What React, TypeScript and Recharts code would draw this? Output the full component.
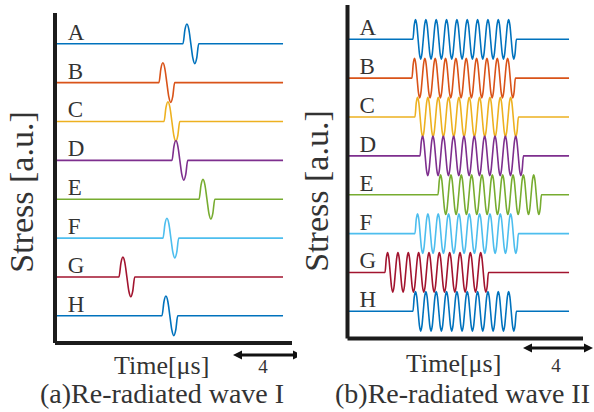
import React from 'react';
import { LineChart, Line, XAxis, YAxis, ReferenceDot } from 'recharts';

// ---- data ----
const TRACE_NAMES = ['A', 'B', 'C', 'D', 'E', 'F', 'G', 'H'];
const TRACE_COLORS = ['#0072BD', '#D95319', '#EDB120', '#7E2F8E', '#77AC30', '#4DBEEE', '#A2142F', '#0072BD'];
const TRACE_BASELINES = [7.7, 6.7, 5.7, 4.7, 3.7, 2.7, 1.7, 0.7];
const AMPLITUDE = 0.51;
// one cycle of the tone burst, sampled every 1/8 period
const BURST_SHAPE = [0, 0.71, 1, 0.71, 0, -0.71, -1, -0.71];

// (a) re-radiated wave I : onset time [us] per trace
const WAVE_I_ONSETS = [7.56, 6.14, 6.44, 6.91, 8.51, 6.38, 3.78, 6.32];
const WAVE_I_PERIOD = 0.93;
const WAVE_I_CYCLES = 1;
const WAVE_I_SPAN = [0.05, 13.47];

// (b) re-radiated wave II
const WAVE_II_ONSETS = [3.89, 3.83, 4.01, 4.31, 5.38, 4.01, 2.23, 3.89];
const WAVE_II_PERIOD = 0.615;
const WAVE_II_CYCLES = 10;
const WAVE_II_SPAN = [0, 13.17];

const TIME_DOMAIN = [0, 14];
const SCALE_BAR_LABEL = '4';
const X_TITLE = 'Time[μs]';
const Y_TITLE = 'Stress [a.u.]';

const FONT = '"Liberation Serif", "Times New Roman", Times, serif';
const TEXT_COLOR = '#333';

function buildTrace(onset: number, period: number, cycles: number, base: number, span: number[]) {
  const pts: { t: number; v: number }[] = [{ t: span[0], v: base }];
  const m = BURST_SHAPE.length;
  const n = cycles * m;
  for (let k = 0; k <= n; k++) {
    pts.push({ t: onset + (k * period) / m, v: base + AMPLITUDE * BURST_SHAPE[k % m] });
  }
  pts.push({ t: span[1], v: base });
  return pts;
}

type Cfg = {
  onsets: number[];
  period: number;
  cycles: number;
  span: number[];
  plotLeft: number;
  plotRight: number;
  plotTop: number;
  plotBottom: number;
  yMax: number;
  yLabelX: number;
  yLabelY: number;
  timeX: number;
  timeY: number;
  fourX: number;
  fourY: number;
  arrowX1: number;
  arrowX2: number;
  arrowY: number;
  captionX: number;
  captionY: number;
  caption: string;
};

const W = 297;
const H = 412;

function BottomTexts({ cfg }: { cfg: Cfg }) {
  const a = cfg.arrowY;
  return (
    <g>
      <line x1={cfg.arrowX1 + 6} y1={a} x2={cfg.arrowX2 - 6} y2={a} stroke="#111" strokeWidth={3} />
      <polygon points={`${cfg.arrowX1},${a} ${cfg.arrowX1 + 9},${a - 4.5} ${cfg.arrowX1 + 9},${a + 4.5}`} fill="#111" />
      <polygon points={`${cfg.arrowX2},${a} ${cfg.arrowX2 - 9},${a - 4.5} ${cfg.arrowX2 - 9},${a + 4.5}`} fill="#111" />
      <text x={cfg.timeX} y={cfg.timeY} fontFamily={FONT} fontSize={26} fill={TEXT_COLOR}>{X_TITLE}</text>
      <text x={cfg.fourX} y={cfg.fourY} fontFamily={FONT} fontSize={19} fill={TEXT_COLOR} textAnchor="middle">{SCALE_BAR_LABEL}</text>
      <text x={cfg.captionX} y={cfg.captionY} fontFamily={FONT} fontSize={28} fill={TEXT_COLOR}>{cfg.caption}</text>
    </g>
  );
}

function Panel({ cfg }: { cfg: Cfg }) {
  const axisStyle = { stroke: '#1c1c1c', strokeWidth: 4 };
  return (
    <LineChart
      width={W}
      height={H}
      margin={{ top: cfg.plotTop, right: W - cfg.plotRight, bottom: 0, left: cfg.plotLeft - 1 }}
    >
      <XAxis
        type="number"
        dataKey="t"
        domain={TIME_DOMAIN}
        allowDataOverflow
        tick={false}
        tickLine={false}
        axisLine={axisStyle}
        height={H - cfg.plotBottom}
        label={() => <BottomTexts cfg={cfg} />}
      />
      <YAxis
        type="number"
        domain={[0, cfg.yMax]}
        allowDataOverflow
        width={1}
        tick={false}
        tickLine={false}
        axisLine={axisStyle}
        label={() => (
          <text
            x={cfg.yLabelX}
            y={cfg.yLabelY}
            transform={`rotate(-90, ${cfg.yLabelX}, ${cfg.yLabelY})`}
            textAnchor="middle"
            fontFamily={FONT}
            fontSize={34}
            fill={TEXT_COLOR}
          >
            {Y_TITLE}
          </text>
        )}
      />
      {TRACE_NAMES.map((name, i) => (
        <Line
          key={name}
          data={buildTrace(cfg.onsets[i], cfg.period, cfg.cycles, TRACE_BASELINES[i], cfg.span)}
          dataKey="v"
          type="monotone"
          stroke={TRACE_COLORS[i]}
          strokeWidth={1.6}
          dot={false}
          activeDot={false}
          isAnimationActive={false}
        />
      ))}
      {TRACE_NAMES.map((name, i) => (
        <ReferenceDot
          key={'lbl' + name}
          x={cfg.span[0]}
          y={TRACE_BASELINES[i]}
          r={0}
          fill="none"
          stroke="none"
          label={(p: any) => {
            const vb = p.viewBox || {};
            return (
              <text x={(vb.x ?? 0) + 12} y={(vb.y ?? 0) - 4} fontFamily={FONT} fontSize={23} fill={TEXT_COLOR}>
                {name}
              </text>
            );
          }}
        />
      ))}
    </LineChart>
  );
}

const LEFT: Cfg = {
  onsets: WAVE_I_ONSETS,
  period: WAVE_I_PERIOD,
  cycles: WAVE_I_CYCLES,
  span: WAVE_I_SPAN,
  plotLeft: 55,
  plotRight: 292,
  plotTop: 13,
  plotBottom: 343,
  yMax: 330 / 38.86,
  yLabelX: 33,
  yLabelY: 192,
  timeX: 114,
  timeY: 374,
  fourX: 263,
  fourY: 373,
  arrowX1: 233,
  arrowX2: 302,
  arrowY: 355,
  captionX: 40,
  captionY: 403,
  caption: '(a)Re-radiated wave I',
};

const RIGHT: Cfg = {
  onsets: WAVE_II_ONSETS,
  period: WAVE_II_PERIOD,
  cycles: WAVE_II_CYCLES,
  span: WAVE_II_SPAN,
  plotLeft: 50.5,
  plotRight: 286,
  plotTop: 5,
  plotBottom: 338.5,
  yMax: 333.5 / 38.86,
  yLabelX: 31,
  yLabelY: 191,
  timeX: 109,
  timeY: 372,
  fourX: 259,
  fourY: 372,
  arrowX1: 226,
  arrowX2: 296,
  arrowY: 348,
  captionX: 38,
  captionY: 403,
  caption: '(b)Re-radiated wave II',
};

export default function App() {
  return (
    <div style={{ position: 'absolute', left: 0, top: 0, width: 594, height: 412, background: '#fff', overflow: 'hidden' }}>
      <div style={{ position: 'absolute', left: 0, top: 0 }}>
        <Panel cfg={LEFT} />
      </div>
      <div style={{ position: 'absolute', left: 297, top: 0 }}>
        <Panel cfg={RIGHT} />
      </div>
    </div>
  );
}
